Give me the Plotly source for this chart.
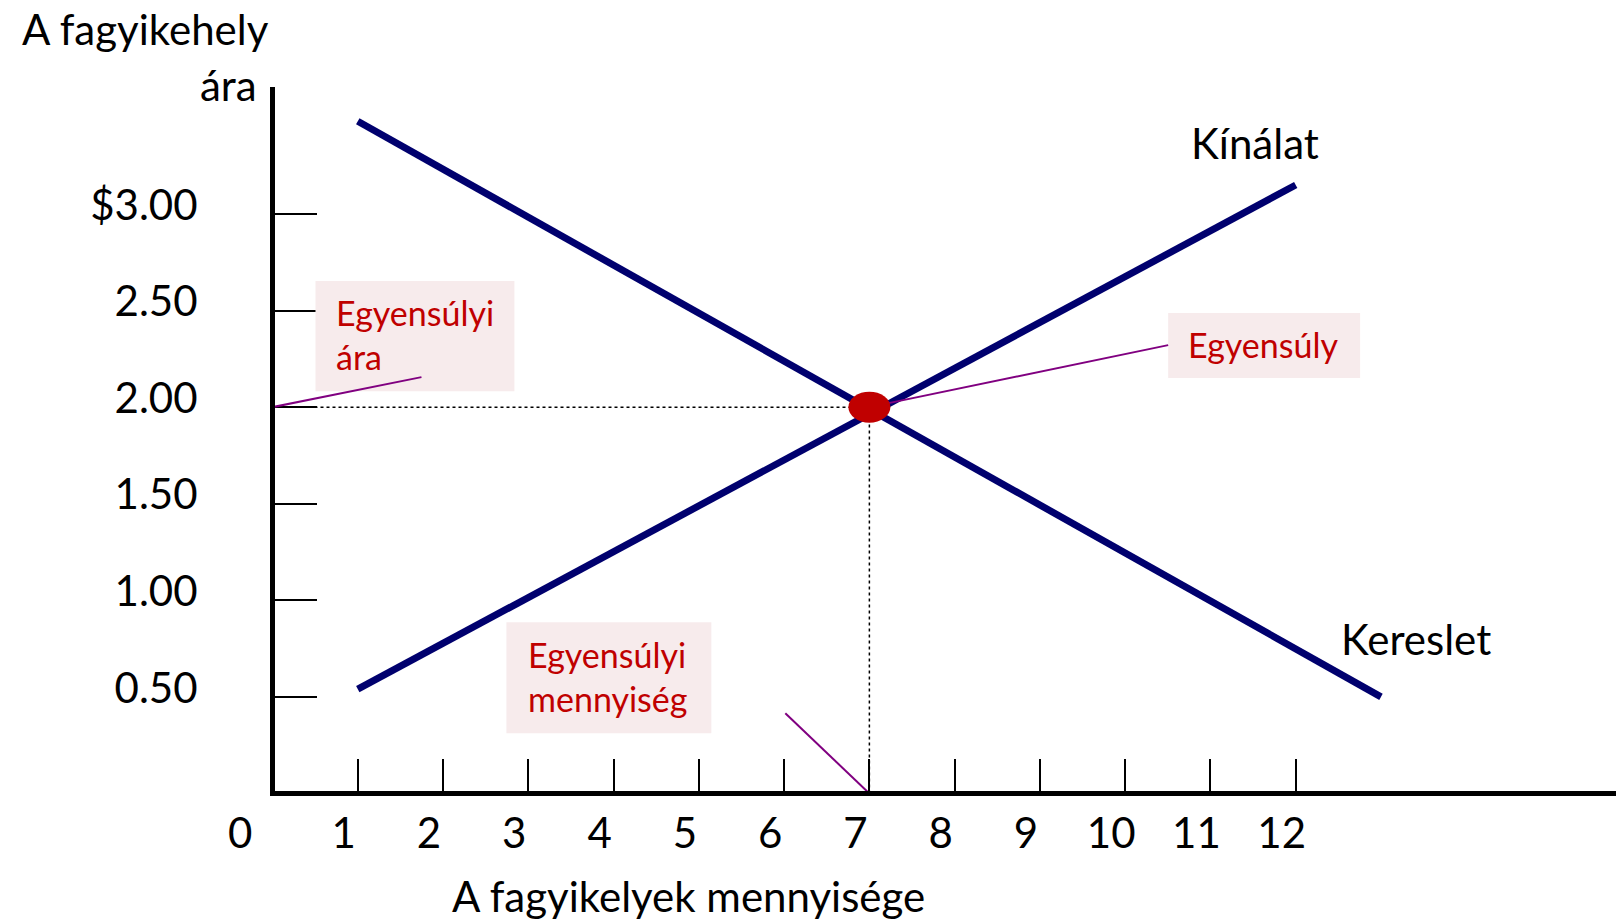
import plotly.graph_objects as go

# ---- data ----
supply_q = [1, 12]
supply_p = [0.54, 3.15]
demand_q = [1, 13]
demand_p = [3.48, 0.50]
eq_q = 7
eq_p = 2.00

origin_label = "0"
x_tickvals = [1, 2, 3, 4, 5, 6, 7, 8, 9, 10, 11, 12]
x_ticktext = ["1", "2", "3", "4", "5", "6", "7", "8", "9", "10", "11", "12"]
y_tickvals = [0.5, 1.0, 1.5, 2.0, 2.5, 3.0]
y_ticktext = ["0.50", "1.00", "1.50", "2.00", "2.50", "$3.00"]

# ---- layout geometry ----
W, H = 1616, 920
X0PX, Y0PX = 272.0, 793.2     # pixel position of the origin (axis line centres)
XPX = 85.3                    # px per quantity unit
YPX = 193.1                   # px per price unit
LW = 5                        # axis line width
L = X0PX + LW / 2             # plot area left edge (line drawn just outside)
BOTTOM_PX = Y0PX - LW / 2     # plot area bottom edge
B = H - BOTTOM_PX
T = 87
R = 0
PW = W - L - R
PH = H - T - B
X_MIN = (LW / 2) / XPX
Y_MIN = (LW / 2) / YPX
X_MAX = X_MIN + PW / XPX
Y_MAX = Y_MIN + PH / YPX


def dx(px):
    return (px - X0PX) / XPX


def dy(py):
    return (Y0PX - py) / YPX


def paper_x(px):
    return (px - L) / PW


def paper_y(py):
    return (BOTTOM_PX - py) / PH


FONT = "Lato"
BIG = 42
SMALL = 34
NAVY = "#00006E"
RED = "#C00000"
PURPLE = "#800080"
PINK = "#F7EBEC"

fig = go.Figure()

# dotted guides
fig.add_trace(go.Scatter(x=[0, eq_q], y=[eq_p, eq_p], mode="lines",
                         line=dict(color="black", width=1.5, dash="dot"),
                         hoverinfo="skip", showlegend=False, cliponaxis=False))
fig.add_trace(go.Scatter(x=[eq_q, eq_q], y=[0, eq_p], mode="lines",
                         line=dict(color="black", width=1.5, dash="dot"),
                         hoverinfo="skip", showlegend=False, cliponaxis=False))
# curves
fig.add_trace(go.Scatter(x=demand_q, y=demand_p, mode="lines",
                         line=dict(color=NAVY, width=7),
                         hoverinfo="skip", showlegend=False))
fig.add_trace(go.Scatter(x=supply_q, y=supply_p, mode="lines",
                         line=dict(color=NAVY, width=7),
                         hoverinfo="skip", showlegend=False))

shapes = []
# label boxes
for (x0, x1, y0, y1) in [(315, 514, 281, 391), (1168, 1360, 313, 378), (506, 711, 622, 733)]:
    shapes.append(dict(type="rect", xref="x", yref="y",
                       x0=dx(x0), x1=dx(x1), y0=dy(y1), y1=dy(y0),
                       fillcolor=PINK, line=dict(width=0), layer="above"))
# leader lines
shapes.append(dict(type="line", xref="x", yref="y", x0=0, y0=eq_p,
                   x1=dx(421), y1=dy(377), line=dict(color=PURPLE, width=2)))
shapes.append(dict(type="line", xref="x", yref="y", x0=eq_q, y0=eq_p,
                   x1=dx(1168), y1=dy(345), line=dict(color=PURPLE, width=2)))
shapes.append(dict(type="line", xref="x", yref="y", x0=dx(785), y0=dy(713),
                   x1=eq_q, y1=0, line=dict(color=PURPLE, width=2)))
# equilibrium dot
shapes.append(dict(type="circle", xref="x", yref="y",
                   xsizemode="pixel", ysizemode="pixel",
                   xanchor=eq_q, yanchor=eq_p,
                   x0=-21, x1=21, y0=-15.5, y1=15.5,
                   fillcolor=RED, line=dict(width=0)))

annotations = [
    dict(text="A fagyikehely", x=paper_x(270), y=paper_y(29), xanchor="right", yanchor="middle",
         xref="paper", yref="paper", font=dict(size=BIG, color="black", family=FONT)),
    dict(text="ára", x=paper_x(258), y=paper_y(85), xanchor="right", yanchor="middle",
         xref="paper", yref="paper", font=dict(size=BIG, color="black", family=FONT)),
    dict(text="A fagyikelyek mennyisége", x=paper_x(688), y=paper_y(896), xanchor="center",
         yanchor="middle", xref="paper", yref="paper",
         font=dict(size=BIG, color="black", family=FONT)),
    dict(text=origin_label, x=paper_x(239), y=paper_y(832), xanchor="center", yanchor="middle",
         xref="paper", yref="paper", font=dict(size=BIG, color="black", family=FONT)),
    dict(text="Kínálat", x=dx(1255), y=dy(143), xanchor="center", yanchor="middle",
         xref="x", yref="y", font=dict(size=BIG, color="black", family=FONT)),
    dict(text="Kereslet", x=dx(1416), y=dy(639), xanchor="center", yanchor="middle",
         xref="x", yref="y", font=dict(size=BIG, color="black", family=FONT)),
    dict(text="Egyensúly", x=dx(1263), y=dy(344), xanchor="center", yanchor="middle",
         xref="x", yref="y", font=dict(size=SMALL, color=RED, family=FONT)),
    dict(text="Egyensúlyi<br>ára", x=dx(334), y=dy(334), xanchor="left", yanchor="middle",
         xref="x", yref="y", align="left", font=dict(size=SMALL, color=RED, family=FONT)),
    dict(text="Egyensúlyi<br>mennyiség", x=dx(526), y=dy(676), xanchor="left", yanchor="middle",
         xref="x", yref="y", align="left", font=dict(size=SMALL, color=RED, family=FONT)),
]
for a in annotations:
    a.update(showarrow=False)

fig.update_layout(
    width=W, height=H,
    margin=dict(l=L, r=R, t=T, b=B, pad=0),
    paper_bgcolor="white", plot_bgcolor="white",
    shapes=shapes, annotations=annotations,
    font=dict(family=FONT, size=BIG, color="black"),
    xaxis=dict(range=[X_MIN, X_MAX], showgrid=False, zeroline=False,
               showline=True, linecolor="black", linewidth=LW,
               ticks="inside", ticklen=32, tickwidth=1.6, tickcolor="black",
               tickvals=x_tickvals, ticktext=x_ticktext,
               tickfont=dict(size=BIG, family=FONT, color="black"),
               ticklabelshift=-14, ticklabelstandoff=2, fixedrange=True),
    yaxis=dict(range=[Y_MIN, Y_MAX], showgrid=False, zeroline=False,
               showline=True, linecolor="black", linewidth=LW,
               ticks="inside", ticklen=42, tickwidth=1.6, tickcolor="black",
               tickvals=y_tickvals, ticktext=y_ticktext,
               tickfont=dict(size=BIG, family=FONT, color="black"),
               ticklabelshift=-9, ticklabelstandoff=64, fixedrange=True),
    showlegend=False,
)

fig.write_html("out.html", config={"displayModeBar": False},
               post_script="document.body.style.margin='0';document.body.style.overflow='hidden';")
